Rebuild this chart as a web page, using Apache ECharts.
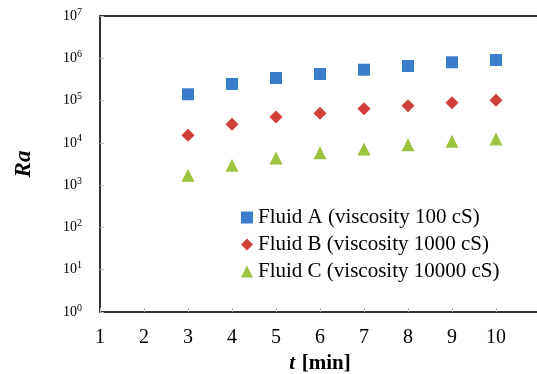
<!DOCTYPE html>
<html>
<head>
<meta charset="utf-8">
<script src="https://cdn.jsdelivr.net/npm/echarts@6/dist/echarts.min.js"></script>
<style>
  html, body { margin: 0; padding: 0; background: #fff; }
  #chart { width: 537px; height: 374px; }
</style>
</head>
<body>
<div id="chart"></div>
<script>
// time [min]
const times = [3, 4, 5, 6, 7, 8, 9, 10]
// Rayleigh number per fluid
const fluidA = [1.41e5, 2.47e5, 3.42e5, 4.25e5, 5.37e5, 6.57e5, 8.04e5, 9.1e5]
const fluidB = [1.51e4, 2.75e4, 4.09e4, 5.0e4, 6.43e4, 7.57e4, 8.9e4, 1.02e5]
const fluidC = [1.71e3, 2.95e3, 4.39e3, 5.86e3, 7.16e3, 9.06e3, 1.09e4, 1.24e4]
const names = [
  'Fluid A (viscosity 100 cS)',
  'Fluid B (viscosity 1000 cS)',
  'Fluid C (viscosity 10000 cS)',
]
const xTicks = [1, 2, 3, 4, 5, 6, 7, 8, 9, 10]

const serif = '"Liberation Serif", "DejaVu Serif", serif'
const pairs = (ys) => times.map((t, i) => [t, ys[i]])

const chart = echarts.init(document.getElementById('chart'))

chart.setOption({
  animation: false,
  grid: { left: 100, top: 16, right: -3, bottom: 62, outerBoundsMode: 'none', containLabel: false },
  legend: {
    orient: 'vertical',
    left: 236,
    top: 202,
    itemWidth: 12,
    itemHeight: 12,
    itemGap: 6,
    textStyle: { fontFamily: serif, fontSize: 21, color: '#000' },
    data: [
      { name: names[0], icon: 'rect' },
      { name: names[1], icon: 'diamond' },
      { name: names[2], icon: 'triangle' },
    ],
  },
  xAxis: [
    {
      type: 'value',
      min: 1,
      max: 11,
      interval: 1,
      name: '{t|t}  {u|[min]}',
      nameLocation: 'middle',
      nameGap: 33,
      nameTextStyle: {
        rich: {
          t: { fontFamily: serif, fontSize: 21, fontWeight: 'bold', fontStyle: 'italic', color: '#000' },
          u: { fontFamily: serif, fontSize: 21, fontWeight: 'bold', color: '#000' },
        },
      },
      splitLine: { show: false },
      axisLine: { lineStyle: { color: '#333', width: 2 } },
      axisTick: { inside: true, length: 4, lineStyle: { color: '#bbb' } },
      axisLabel: {
        margin: 16,
        fontFamily: serif,
        fontSize: 20,
        color: '#000',
        formatter: (v) => (xTicks.includes(v) ? String(v) : ''),
      },
    },
    {
      type: 'value',
      position: 'top',
      min: 1,
      max: 11,
      axisLine: { show: true, lineStyle: { color: '#333', width: 2 } },
      axisTick: { show: false },
      axisLabel: { show: false },
      splitLine: { show: false },
    },
  ],
  yAxis: {
    type: 'log',
    logBase: 10,
    min: 1,
    max: 1e7,
    name: 'Ra',
    nameLocation: 'middle',
    nameGap: 64,
    nameTextStyle: {
      fontFamily: serif, fontSize: 23, fontWeight: 'bold', fontStyle: 'italic', color: '#000',
    },
    splitLine: { show: false },
    axisLine: { show: true, lineStyle: { color: '#333', width: 2 } },
    axisTick: { inside: true, length: 4, lineStyle: { color: '#bbb' } },
    axisLabel: {
      margin: 18,
      formatter: (v) => '{b|10}{e|' + Math.round(Math.log10(v)) + '}',
      rich: {
        b: { fontFamily: serif, fontSize: 14, color: '#000' },
        e: { fontFamily: serif, fontSize: 10, color: '#000', verticalAlign: 'bottom', padding: [0, 0, 8, 0] },
      },
    },
  },
  series: [
    {
      name: names[0], type: 'scatter', symbol: 'rect', symbolSize: 12,
      itemStyle: { color: '#3b7dcc', opacity: 1 }, data: pairs(fluidA),
    },
    {
      name: names[1], type: 'scatter', symbol: 'diamond', symbolSize: 13,
      itemStyle: { color: '#d13f3b', opacity: 1 }, data: pairs(fluidB),
    },
    {
      name: names[2], type: 'scatter', symbol: 'triangle', symbolSize: 13,
      itemStyle: { color: '#9cc43f', opacity: 1 }, data: pairs(fluidC),
    },
  ],
})

window.addEventListener('resize', () => chart.resize())
</script>
</body>
</html>
